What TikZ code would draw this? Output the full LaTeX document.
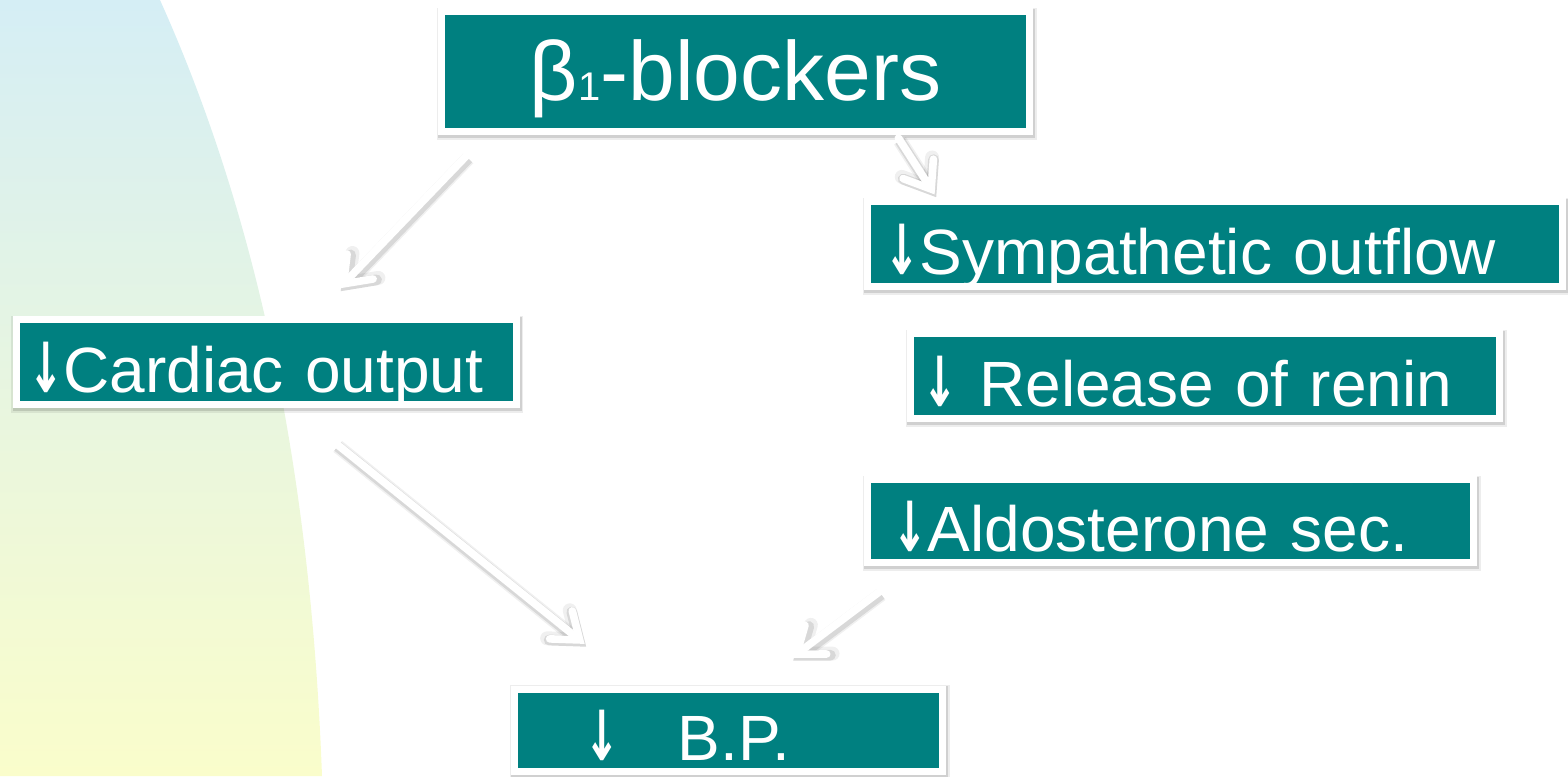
\documentclass[tikz,border=0pt]{standalone}
\usepackage{fontspec}
\setmainfont{Liberation Sans}
\newfontfamily\arrowfont{DejaVu Sans}
\usepackage{xcolor}
\usetikzlibrary{arrows.meta}
\usetikzlibrary{positioning}
\definecolor{boxteal}{HTML}{008080}
\definecolor{bgblue}{HTML}{D5EEF5}
\definecolor{bgyellow}{HTML}{FAFDCB}
\newcommand{\downmark}{\scalebox{0.66}[1.08]{\arrowfont\bfseries ↓}}
\tikzset{
  box/.style={draw=white, line width=3.5pt, fill=boxteal, text=white, inner sep=0pt,
    font=\fontsize{32}{38}\selectfont, text height=30pt, text depth=0pt,
    preaction={draw=black, draw opacity=0.07, line width=6pt, transform canvas={xshift=0.6pt, yshift=-1pt}},
    preaction={draw=black, draw opacity=0.12, line width=4.6pt, transform canvas={xshift=0.6pt, yshift=-1pt}}},
  conn/.style={draw=white, line width=3.8pt, line cap=round,
    -{Straight Barb[length=12pt, width=18pt, line cap=round]},
    preaction={draw=black, draw opacity=0.06, line width=7pt, transform canvas={xshift=0.8pt, yshift=-1.4pt}},
    preaction={draw=black, draw opacity=0.10, line width=5.4pt, transform canvas={xshift=0.8pt, yshift=-1.4pt}}}
}

\begin{document}
\begin{tikzpicture}[x=0.5pt, y=-0.5pt]
	\useasboundingbox (0,0) rectangle (1568,776);
	%background curve
	\shade[top color=bgblue, bottom color=bgyellow] (0,0) -- (160,0) .. controls (250,200) and (310,450) .. (322,776) -- (0,776) -- cycle;
	%boxes
	\node[box, minimum width=294pt, minimum height=60pt, font=\fontsize{42}{50}\selectfont, text height=29pt] (beta) at (735.5,71.5) {β{\fontsize{20}{20}\selectfont 1}-blockers};
	\node[box, minimum width=347.5pt, minimum height=42.5pt, text width=330.5pt, align=left] (symp) at (1215,244) {\downmark Sympathetic outflow};
	\node[box, minimum width=250pt, minimum height=42.5pt, text width=238pt, align=left] (cardiac) at (266,362) {\downmark Cardiac output};
	\node[box, minimum width=294.5pt, minimum height=42.5pt, text width=282.5pt, align=left] (renin) at (1205,376) {\downmark\ Release of renin};
	\node[box, minimum width=303pt, minimum height=41.5pt, text width=278pt, align=left] (aldo) at (1170.5,521) {\downmark Aldosterone sec.};
	\node[box, minimum width=214pt, minimum height=41pt, text width=144pt, align=left] (bp) at (728.5,730) {\downmark\hspace{29pt}B.P.};
	%arrows
	\draw[conn] ([xshift=14.3pt, yshift=-10.3pt]beta.south west) -- ([xshift=163.3pt, yshift=13.8pt]cardiac.north west);
	\draw[conn] ([xshift=-67.3pt, yshift=-1.5pt]beta.south east) -- ([xshift=35.3pt, yshift=1.8pt]symp.north west);
	\draw[conn] ([xshift=161.8pt, yshift=-17.8pt]cardiac.south west) -- ([xshift=36.8pt, yshift=20.8pt]bp.north west);
	\draw[conn] ([xshift=7.8pt, yshift=-12.8pt]aldo.south west) -- ([xshift=140.3pt, yshift=13.8pt]bp.north west);
\end{tikzpicture}
\end{document}
